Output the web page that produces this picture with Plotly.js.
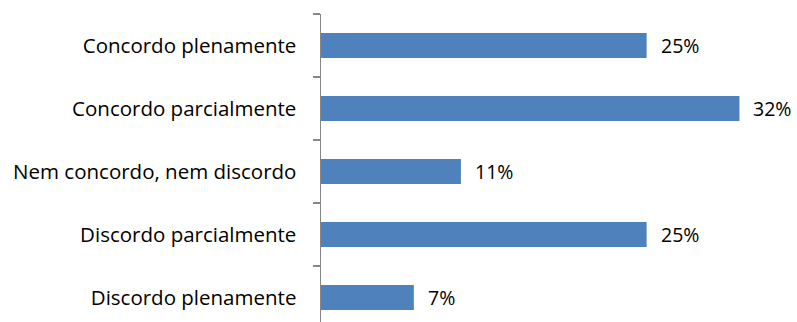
<!DOCTYPE html>
<html>
<head>
<meta charset="utf-8">
<script src="https://cdn.plot.ly/plotly-3.0.1.min.js"></script>
<style>html,body{margin:0;padding:0;background:#fff;}#chart{width:797px;height:322px;}</style>
</head>
<body>
<div id="chart"></div>
<script>
const categories = ["Concordo plenamente", "Concordo parcialmente", "Nem concordo, nem discordo", "Discordo parcialmente", "Discordo plenamente"];
const values = [24.9, 32.0, 10.7, 24.9, 7.1];
const labels = ["25%", "32%", "11%", "25%", "7%"];

const FONT = "'Open Sans', sans-serif";

const trace = {
  type: "bar",
  orientation: "h",
  y: categories,
  x: values,
  width: 0.4,
  marker: {color: "#4F81BD", line: {width: 0}},
  hoverinfo: "skip"
};

const annotations = values.map((v, i) => ({
  x: v, y: categories[i], xref: "x", yref: "y",
  text: labels[i], showarrow: false, xanchor: "left", yanchor: "middle",
  xshift: 12, font: {family: FONT, size: 19.5, color: "#000"}
}));

const layout = {
  width: 797, height: 322,
  margin: {l: 321, r: 0, t: 14, b: 0, pad: 0},
  paper_bgcolor: "#fff", plot_bgcolor: "#fff",
  showlegend: false,
  bargap: 0.6,
  xaxis: {range: [0, 36.4], visible: false, fixedrange: true},
  yaxis: {
    type: "category",
    range: [4.389, -0.5],
    showline: true, linecolor: "#868686", linewidth: 1.5,
    ticks: "outside", ticklen: 7, tickcolor: "#868686", tickwidth: 1.5,
    tickson: "boundaries",
    showgrid: false, zeroline: false,
    ticklabelstandoff: 19,
    tickfont: {family: FONT, size: 20.5, color: "#000"}
  },
  annotations: annotations
};

Plotly.newPlot("chart", [trace], layout, {staticPlot: true, displayModeBar: false});
</script>
</body>
</html>
